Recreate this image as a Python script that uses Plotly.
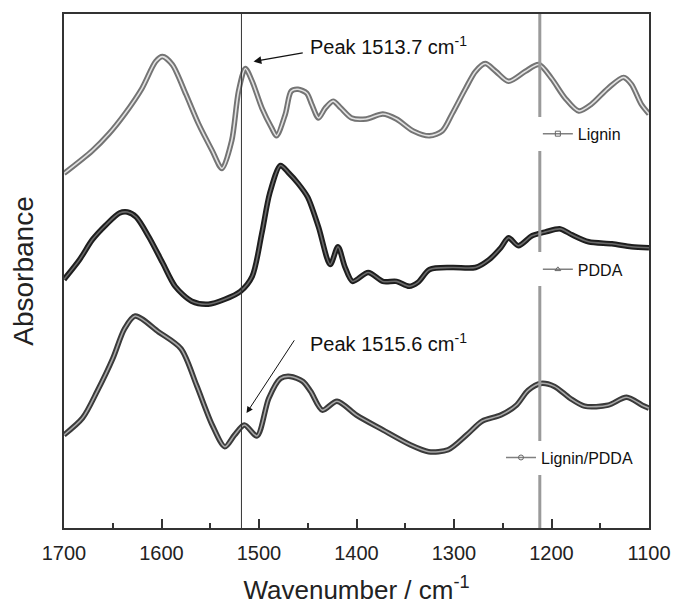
import plotly.graph_objects as go

# FTIR spectra (offset for clarity), wavenumber in cm^-1, absorbance in a.u.
wn_lignin = [1700, 1671, 1654, 1637, 1620, 1606, 1599, 1589, 1575, 1562, 1548, 1538,
             1528, 1521, 1514, 1507, 1497, 1487, 1482, 1473, 1467, 1460, 1451, 1446,
             1439, 1432, 1424, 1416, 1405, 1390, 1373, 1359, 1342, 1325, 1312, 1302,
             1288, 1278, 1268, 1257, 1244, 1227, 1213, 1200, 1186, 1172, 1159, 1142,
             1126, 1118, 1108, 1100]
ab_lignin = [3.58, 3.81, 3.98, 4.19, 4.44, 4.71, 4.76, 4.68, 4.38, 4.08, 3.81, 3.63,
             3.91, 4.41, 4.64, 4.51, 4.24, 4.04, 3.96, 4.18, 4.41, 4.43, 4.39, 4.28,
             4.14, 4.24, 4.31, 4.24, 4.14, 4.13, 4.18, 4.13, 4.01, 3.96, 4.01, 4.18,
             4.44, 4.61, 4.69, 4.61, 4.51, 4.61, 4.68, 4.54, 4.34, 4.21, 4.28, 4.44,
             4.55, 4.48, 4.28, 4.18]

wn_pdda = [1700, 1684, 1671, 1657, 1643, 1635, 1626, 1613, 1599, 1586, 1569, 1552,
           1535, 1519, 1507, 1497, 1489, 1478, 1470, 1460, 1450, 1439, 1427, 1419,
           1412, 1404, 1388, 1373, 1359, 1346, 1337, 1325, 1302, 1278, 1264, 1252,
           1244, 1234, 1220, 1206, 1191, 1179, 1162, 1138, 1118, 1100]
ab_pdda = [2.51, 2.71, 2.91, 3.06, 3.18, 3.19, 3.14, 2.94, 2.68, 2.44, 2.29, 2.26,
           2.31, 2.39, 2.54, 2.98, 3.38, 3.66, 3.59, 3.48, 3.34, 3.04, 2.66, 2.84,
           2.64, 2.49, 2.58, 2.49, 2.49, 2.44, 2.48, 2.61, 2.63, 2.63, 2.71, 2.83,
           2.93, 2.85, 2.95, 2.99, 3.02, 2.96, 2.89, 2.87, 2.84, 2.83]

wn_mix = [1700, 1681, 1666, 1650, 1638, 1627, 1603, 1580, 1564, 1548, 1535, 1525,
          1515, 1502, 1490, 1478, 1468, 1455, 1447, 1435, 1420, 1400, 1373, 1345,
          1326, 1306, 1287, 1271, 1252, 1236, 1224, 1211, 1197, 1181, 1166, 1142,
          1123, 1107, 1100]
ab_mix = [0.94, 1.11, 1.38, 1.71, 2.01, 2.14, 1.98, 1.81, 1.44, 1.04, 0.82, 0.94,
          1.04, 0.93, 1.31, 1.51, 1.53, 1.48, 1.38, 1.19, 1.28, 1.14, 0.99, 0.84,
          0.77, 0.79, 0.94, 1.08, 1.14, 1.24, 1.39, 1.46, 1.43, 1.31, 1.23, 1.24,
          1.32, 1.24, 1.21]

series = [
    ("Lignin", wn_lignin, ab_lignin, "#747474", "#e2e2e2", "square-open", "legend"),
    ("PDDA", wn_pdda, ab_pdda, "#1e1e1e", "#6a6a6a", "triangle-up-open", "legend2"),
    ("Lignin/PDDA", wn_mix, ab_mix, "#3a3a3a", "#a8a8a8", "circle-open", "legend3"),
]

peak_lines = [1518, 1212]

FONT = "Liberation Sans, Arial, sans-serif"

fig = go.Figure()

for name, wn, ab, outer, inner, symbol, leg in series:
    # thick outlined band with a lighter core
    fig.add_trace(go.Scatter(x=wn, y=ab, mode="lines", showlegend=False,
                             line=dict(color=outer, width=5.5, shape="spline", smoothing=0.8),
                             hoverinfo="skip"))
    fig.add_trace(go.Scatter(x=wn, y=ab, mode="lines", showlegend=False,
                             line=dict(color=inner, width=1.6, shape="spline", smoothing=0.8),
                             hoverinfo="skip"))
    # legend entry
    fig.add_trace(go.Scatter(x=[None], y=[None], mode="lines+markers", name=name,
                             legend=leg,
                             line=dict(color="#808080", width=1.5),
                             marker=dict(symbol=symbol, size=5, color="#666666",
                                         line=dict(width=1))))

# reference lines at the two marked band positions
fig.add_shape(type="line", xref="x", yref="paper", x0=peak_lines[0], x1=peak_lines[0],
              y0=0, y1=1, line=dict(color="#333333", width=1))
fig.add_shape(type="line", xref="x", yref="paper", x0=peak_lines[1], x1=peak_lines[1],
              y0=0, y1=1, line=dict(color="#9a9a9a", width=3))

# peak labels with arrows
fig.add_annotation(x=1505.6, y=4.71, ax=1453.6, ay=4.80, axref="x", ayref="y",
                   xref="x", yref="y", text="", showarrow=True,
                   arrowhead=2, arrowsize=1.3, arrowwidth=1.2, arrowcolor="#111111")
fig.add_annotation(x=1449.5, y=4.87, xref="x", yref="y", xanchor="left",
                   yanchor="middle", showarrow=False,
                   text="Peak 1513.7 cm<sup>-1</sup>",
                   font=dict(family=FONT, size=20, color="#111111"))
fig.add_annotation(x=1512.8, y=1.16, ax=1462.8, ay=1.91, axref="x", ayref="y",
                   xref="x", yref="y", text="", showarrow=True,
                   arrowhead=2, arrowsize=1.3, arrowwidth=1.0, arrowcolor="#111111")
fig.add_annotation(x=1449.5, y=1.87, xref="x", yref="y", xanchor="left",
                   yanchor="middle", showarrow=False,
                   text="Peak 1515.6 cm<sup>-1</sup>",
                   font=dict(family=FONT, size=20, color="#111111"))

leg_common = dict(bgcolor="white", borderwidth=0, itemwidth=30,
                  font=dict(family=FONT, size=16, color="#111111"),
                  xanchor="left", yanchor="middle", tracegroupgap=0)

fig.update_layout(
    width=683, height=612,
    margin=dict(l=64, r=30, t=12, b=81),
    paper_bgcolor="white", plot_bgcolor="white",
    font=dict(family=FONT, color="#111111"),
    legend=dict(x=0.81, y=0.767, **leg_common),
    legend2=dict(x=0.81, y=0.503, **leg_common),
    legend3=dict(x=0.747, y=0.137, **leg_common),
    xaxis=dict(
        range=[1700, 1100], tickmode="array",
        tickvals=[1700, 1600, 1500, 1400, 1300, 1200, 1100],
        ticks="inside", ticklen=9, tickwidth=1.5, tickcolor="#333333",
        minor=dict(ticks="inside", ticklen=5, tickwidth=1.5, tickcolor="#333333", dtick=50),
        showline=True, linecolor="#333333", linewidth=2, mirror=True,
        showgrid=False, zeroline=False,
        tickfont=dict(family=FONT, size=20, color="#222222"),
        ticklabelstandoff=6,
        title=dict(text="Wavenumber / cm<sup>-1</sup>", standoff=18,
                   font=dict(family=FONT, size=26, color="#222222")),
    ),
    yaxis=dict(
        range=[0, 5.19], showticklabels=False, ticks="",
        showline=True, linecolor="#333333", linewidth=2, mirror=True,
        showgrid=False, zeroline=False,
        title=dict(text="Absorbance", standoff=20,
                   font=dict(family=FONT, size=28, color="#222222")),
    ),
)

fig.write_html("out.html")
